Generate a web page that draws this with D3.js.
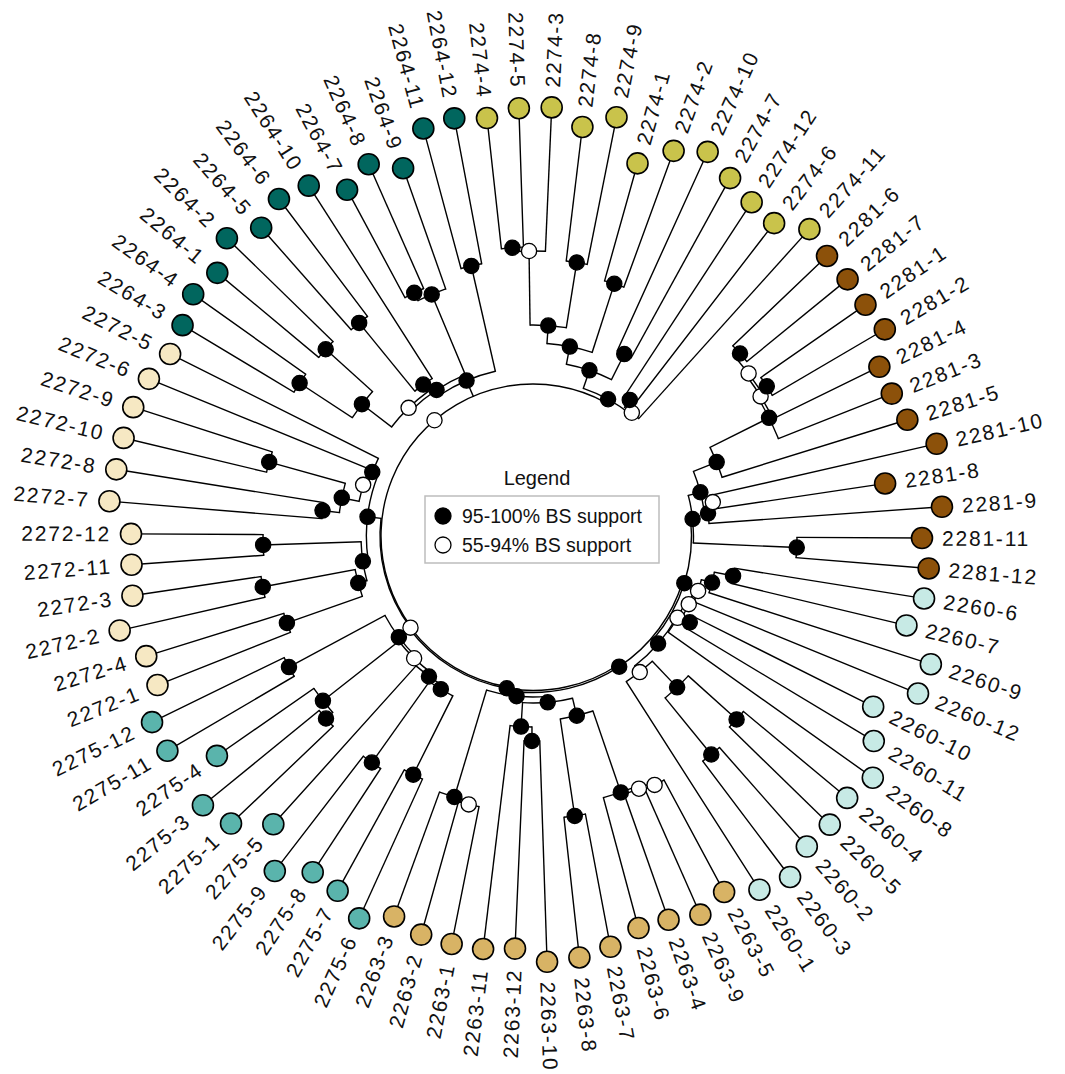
<!DOCTYPE html>
<html>
<head>
<meta charset="utf-8">
<script src="https://cdn.jsdelivr.net/npm/d3@7"></script>
<style>
  body { margin: 0; background: #fff; }
  svg { display: block; font-family: "Liberation Sans", Arial, Helvetica, sans-serif; }
</style>
</head>
<body>
<svg id="chart" width="1065" height="1074"></svg>
<script>
// populations (prefix of the tip labels) and their fill colours
const groups = ["2281", "2260", "2263", "2275", "2272", "2264", "2274"];
const groupColors = ["#8C510A", "#C7EAE5", "#D8B365", "#5AB4AC", "#F6E8C3", "#01665E", "#C9C34B"];

// bootstrap classes, used as internal node labels in the newick strings
const supportClasses = ["H", "M"];
const supportLabels = ["95-100% BS support", "55-94% BS support"];
const supportFills = ["#000", "#fff"];

// one clade per population (newick, branch lengths)
const clade2281 = "(((((((2281-6:0.130,2281-7:0.130)H:0.006,(2281-1:0.1274,2281-2:0.1304)H:0.0076)M:0.003,2281-4:0.1185)M:0.003,2281-3:0.122)H:0.066,2281-5:0.194)H:0.025,((2281-10:0.231,2281-8:0.173)M:0.0065,2281-9:0.2335)H:0.0035)H:0.0125,(2281-11:0.125,2281-12:0.133)H:0.1035)H:0.002";
const clade2260 = "((((((2260-6:0.192,2260-7:0.180)H:0.019,2260-9:0.233)H:0.011,2260-12:0.242)M:0.004,(2260-10:0.2016,2260-11:0.2187)H:0.009)M:0.004,2260-8:0.251)M:0.001,(((2260-4:0.135,2260-5:0.140)H:0.065,(2260-2:0.132,2260-3:0.145)H:0.073)H:0.036,2260-1:0.247)M:0.008)H:0.0065";
const clade2263 = "((((((2263-5:0.127,2263-9:0.137)M:0.003,2263-4:0.133)M:0.003,2263-6:0.135)H:0.086,(2263-7:0.135,2263-8:0.141)H:0.098)H:0.018,((2263-10:0.221,2263-12:0.208)H:0.014,2263-11:0.225)H:0.024)H:0.006,((2263-1:0.140,2263-2:0.138)M:0.0034,2263-3:0.1324)H:0.1116)H:0.0045";
const clade2275 = "(((((2275-6:0.153,2275-7:0.138)H:0.0882,(2275-8:0.124,2275-9:0.145)H:0.0992)H:0.004,2275-5:0.2132)H:0.0043,((2275-1:0.141,2275-3:0.150)H:0.009,2275-4:0.118)H:0.0965)M:0.0025,(2275-11:0.147,2275-12:0.147)H:0.109)H:0.0135";
const clade2272 = "((((2272-1:0.143,2272-4:0.144)H:0.080,(2272-2:0.149,2272-3:0.130)H:0.094)H:0.009,(2272-11:0.1325,2272-12:0.132)H:0.098)H:0.0054,((((2272-7:0.213,2272-8:0.210)H:0.017,(2272-10:0.147,2272-9:0.146)H:0.079)H:0.0176,2272-6:0.2376)M:0.0044,2272-5:0.233)H:0.0064)H:0.0136";
const clade2264 = "(((((2264-3:0.130,2264-4:0.138)H:0.063,(2264-1:0.132,2264-2:0.148)H:0.063)H:0.0374,((2264-5:0.136,2264-6:0.147)H:0.088,2264-10:0.229)H:0.0084)M:0.0036,((2264-7:0.1224,2264-8:0.1359)H:0.0086,2264-9:0.128)H:0.087)H:0.006,(2264-11:0.145,2264-12:0.148)H:0.108)H:0.017";
const clade2274 = "((((((2274-4:0.1315,2274-5:0.139)H:0.004,2274-3:0.144)M:0.074,(2274-8:0.135,2274-9:0.150)H:0.066)H:0.018,(2274-1:0.122,2274-2:0.145)H:0.072)H:0.018,(2274-10:0.2185,2274-7:0.2051)H:0.0285)H:0.019,((2274-12:0.232,2274-6:0.228)H:0.009,2274-11:0.255)M:0.002)H:0.004";

// backbone joining the clades (unrooted, three children at the root)
const tree = `(((((${clade2281},${clade2260})H:0.002,${clade2263})H:0.002,${clade2275})H:0.0015,${clade2272})M:0.001,${clade2264},${clade2274})M;`;

// tiny newick reader
function parseNewick(s) {
    let i = 0;
    function node() {
        const n = { children: [] };
        if (s[i] === "(") {
            i++;
            n.children.push(node());
            while (s[i] === ",") { i++; n.children.push(node()); }
            i++; // ")"
        }
        let name = "";
        while (i < s.length && !":,);".includes(s[i])) name += s[i++];
        n.name = name;
        let len = "";
        if (s[i] === ":") {
            i++;
            while (i < s.length && !",);".includes(s[i])) len += s[i++];
        }
        n.length = len ? +len : 0;
        return n;
    }
    return node();
}

const width = 1065, height = 1074;
const cx = 533, cy = 536;

const svg = d3.select("#chart");
const g = svg.append("g").attr("transform", `translate(${cx},${cy})`);

// layout: ggtree style circular phylogram
const root = d3.hierarchy(parseNewick(tree), d => d.children.length ? d.children : null);
root.eachBefore(d => { d.dist = d.parent ? d.parent.dist + d.data.length : 0; });
const leaves = root.leaves();

const angle = d3.scaleLinear().domain([0, leaves.length]).range([46.4, 406.4]); // degrees, clockwise from top
const radius = d3.scaleLinear().domain([0, 0.28]).range([152, 432]);           // inner hole like xlim(-x)

leaves.forEach((d, i) => { d.angle = angle(i); });
root.eachAfter(d => { if (d.children) d.angle = d3.mean(d.children, c => c.angle); });

const rad = a => (a - 90) * Math.PI / 180;
const pt = (r, a) => [r * Math.cos(rad(a)), r * Math.sin(rad(a))];

const color = d3.scaleOrdinal().domain(groups).range(groupColors);
const fillOf = d3.scaleOrdinal().domain(supportClasses).range(supportFills);

// arcs joining the children of every internal node
g.append("g")
    .selectAll("path")
    .data(root.descendants().filter(d => d.children))
    .join("path")
    .attr("d", d => {
        const a0 = d3.min(d.children, c => c.angle);
        const a1 = d3.max(d.children, c => c.angle);
        const r = radius(d.dist);
        const p = d3.path();
        const [x0, y0] = pt(r, a0);
        p.moveTo(x0, y0);
        p.arc(0, 0, r, rad(a0), rad(a1), false);
        return p.toString();
    })
    .attr("fill", "none")
    .attr("stroke", "#000")
    .attr("stroke-width", 1.4);

// radial branches
g.append("g")
    .selectAll("line")
    .data(root.descendants().filter(d => d.parent))
    .join("line")
    .attr("x1", d => pt(radius(d.parent.dist), d.angle)[0])
    .attr("y1", d => pt(radius(d.parent.dist), d.angle)[1])
    .attr("x2", d => pt(radius(d.dist), d.angle)[0])
    .attr("y2", d => pt(radius(d.dist), d.angle)[1])
    .attr("stroke", "#000")
    .attr("stroke-width", 1.4)
    .attr("stroke-linecap", "square");

// bootstrap support points
g.append("g")
    .selectAll("circle")
    .data(root.descendants().filter(d => d.children && supportClasses.includes(d.data.name)))
    .join("circle")
    .attr("cx", d => pt(radius(d.dist), d.angle)[0])
    .attr("cy", d => pt(radius(d.dist), d.angle)[1])
    .attr("r", 7.6)
    .attr("fill", d => fillOf(d.data.name))
    .attr("stroke", "#000")
    .attr("stroke-width", 1.3);

// tip points
g.append("g")
    .selectAll("circle")
    .data(leaves)
    .join("circle")
    .attr("cx", d => pt(radius(d.dist), d.angle)[0])
    .attr("cy", d => pt(radius(d.dist), d.angle)[1])
    .attr("r", 10.5)
    .attr("fill", d => color(d.data.name.split("-")[0]))
    .attr("stroke", "#000")
    .attr("stroke-width", 1.6);

// tip labels, flipped on the left half
g.append("g")
    .selectAll("text")
    .data(leaves)
    .join("text")
    .attr("transform", d => {
        const a = ((d.angle % 360) + 360) % 360;
        const r = radius(d.dist) + 20;
        return a < 180
            ? `rotate(${d.angle - 90}) translate(${r},0)`
            : `rotate(${d.angle - 90}) translate(${r},0) rotate(180)`;
    })
    .attr("text-anchor", d => (((d.angle % 360) + 360) % 360) < 180 ? "start" : "end")
    .attr("dominant-baseline", "central")
    .attr("font-size", 21)
    .attr("letter-spacing", 1.8)
    .attr("fill", "#111")
    .text(d => d.data.name);

// legend
const legend = svg.append("g");
legend.append("text")
    .attr("x", 537).attr("y", 485)
    .attr("text-anchor", "middle")
    .attr("font-size", 20)
    .attr("fill", "#111")
    .text("Legend");
legend.append("rect")
    .attr("x", 425).attr("y", 496)
    .attr("width", 234).attr("height", 67)
    .attr("fill", "#fff")
    .attr("stroke", "#bdbdbd")
    .attr("stroke-width", 1.5);
const item = legend.selectAll("g.item")
    .data(supportClasses)
    .join("g")
    .attr("class", "item")
    .attr("transform", (d, i) => `translate(443,${516 + i * 29})`);
item.append("circle")
    .attr("r", 8)
    .attr("fill", d => fillOf(d))
    .attr("stroke", "#000")
    .attr("stroke-width", 1.3);
item.append("text")
    .attr("x", 19)
    .attr("dominant-baseline", "central")
    .attr("font-size", 19.5)
    .attr("fill", "#111")
    .text((d, i) => supportLabels[i]);
</script>
</body>
</html>
